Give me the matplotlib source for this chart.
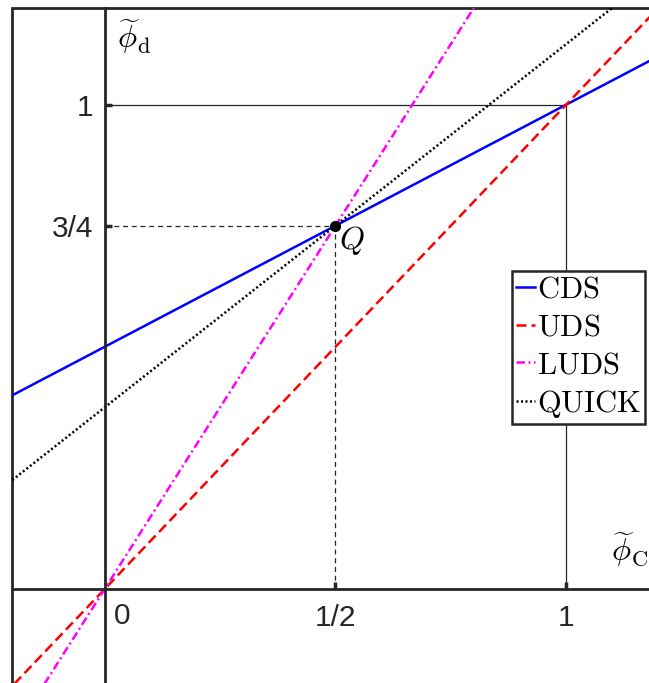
import numpy as np
import matplotlib
matplotlib.use('Agg')
import matplotlib.pyplot as plt

plt.rcParams['mathtext.fontset'] = 'cm'
plt.rcParams['font.family'] = ['Liberation Sans', 'DejaVu Sans']

# Normalised variable diagram: phi_d as a function of phi_C for each scheme
phi_c = np.array([-0.2, 1.2])
scheme_names = ['CDS', 'UDS', 'LUDS', 'QUICK']
scheme_slope = [0.5, 1.0, 1.5, 0.75]
scheme_offset = [0.5, 0.0, 0.0, 0.375]
scheme_colors = ['#0000ff', '#ff0000', '#ff00ff', 'black']
scheme_styles = ['-', (0, (4, 2)), (0, (3.4, 1.4, 0.8, 1.4)), (0, (0.8, 1.0))]

# point Q and the reference lines
q_point = (0.5, 0.75)
x_ticks = [0.5, 1.0]
x_tick_labels = ['1/2', '1']
y_ticks = [0.75, 1.0]
y_tick_labels = ['3/4', '1']

fig = plt.figure(figsize=(6.49, 6.83), dpi=100)
ax = fig.add_axes([12.3 / 649, -3.0 / 683, 646.3 / 649, 678.3 / 683])
ax.set_xlim(-0.2, 1.2)
ax.set_ylim(-0.2, 1.2)

# frame around the whole plot
ax.patch.set_edgecolor('#262626')
ax.patch.set_linewidth(2.0)

# axis lines through the origin
for side in ['top', 'right']:
    ax.spines[side].set_visible(False)
for side in ['left', 'bottom']:
    ax.spines[side].set_position(('data', 0))
    ax.spines[side].set_linewidth(2.0)
    ax.spines[side].set_color('#262626')

ax.set_xticks(x_ticks)
ax.set_xticklabels(x_tick_labels)
ax.set_yticks(y_ticks)
ax.set_yticklabels(y_tick_labels)
ax.tick_params(direction='in', length=5, width=2.5, colors='#262626',
               labelsize=21.5, labelcolor='#262626')
ax.tick_params(axis='x', pad=11)
ax.tick_params(axis='y', pad=8)

# reference lines
ax.plot([0, 1], [1, 1], color='#262626', lw=0.9)
ax.plot([1, 1], [0, 1], color='#262626', lw=0.9)
ax.plot([0, q_point[0]], [q_point[1], q_point[1]], color='#262626', lw=0.9, ls=(0, (4, 3)))
ax.plot([q_point[0], q_point[0]], [0, q_point[1]], color='#262626', lw=0.9, ls=(0, (4, 3)))

for name, a, b, c, ls in zip(scheme_names, scheme_slope, scheme_offset,
                             scheme_colors, scheme_styles):
    ax.plot(phi_c, a * phi_c + b, color=c, ls=ls, lw=1.8,
            label=r'$\mathrm{%s}$' % name)

ax.plot(*q_point, 'o', color='black', ms=7, zorder=5)
ax.text(0.535, 0.72, r'$Q$', fontsize=23, ha='center', va='center')
ax.text(0.037, -0.056, '0', fontsize=21.5, ha='center', va='center', color='#262626')
ax.text(0.065, 1.14, r'$\widetilde{\phi}_\mathrm{d}$', fontsize=23, ha='center', va='center')
ax.text(1.138, 0.082, r'$\widetilde{\phi}_\mathrm{C}$', fontsize=23, ha='center', va='center')

leg = ax.legend(loc='upper left', bbox_to_anchor=(0.773, 0.612), borderaxespad=0,
                fontsize=22, handlelength=0.62, handletextpad=0.08, labelspacing=0.25,
                borderpad=0.13, fancybox=False, framealpha=1, edgecolor='#262626')
leg.get_frame().set_linewidth(1.8)

fig.savefig('out.png', dpi=100)
